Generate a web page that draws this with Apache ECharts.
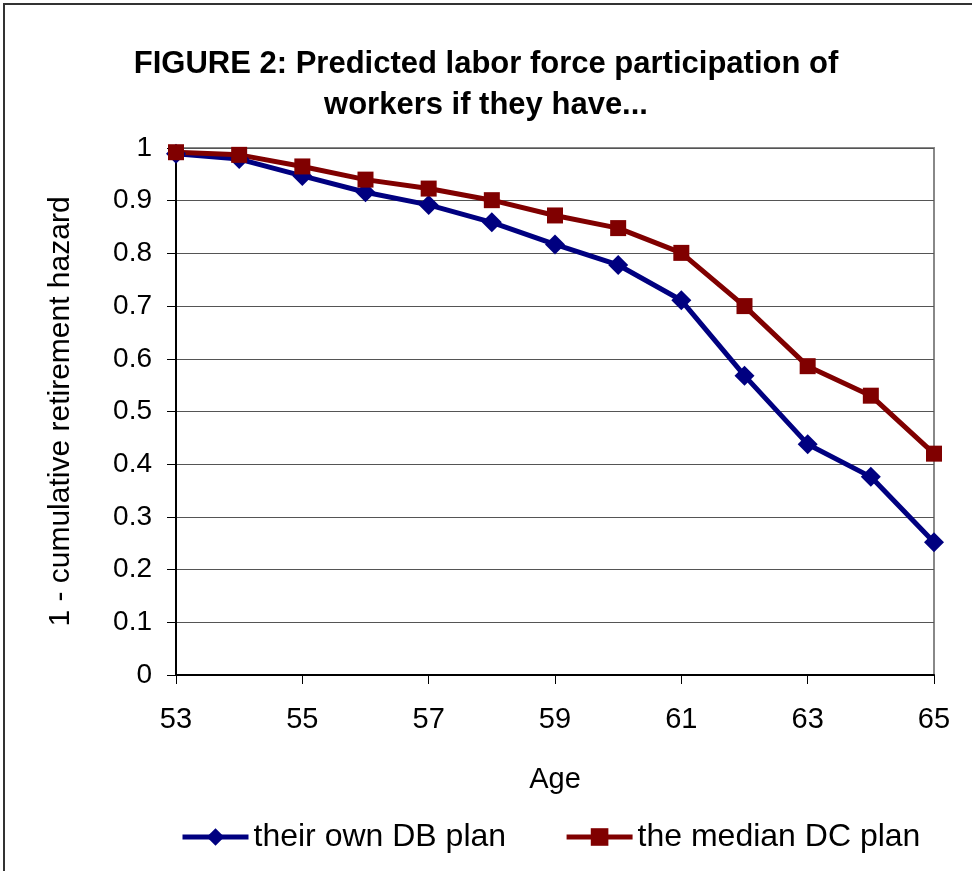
<!DOCTYPE html>
<html>
<head>
<meta charset="utf-8">
<script src="https://cdn.jsdelivr.net/npm/echarts@6/dist/echarts.min.js"></script>
<style>
  html, body { margin: 0; padding: 0; background: #fff; }
  #chart { width: 972px; height: 871px; }
</style>
</head>
<body>
<div id="chart"></div>
<script>
// age on the x axis
var ages = [53, 54, 55, 56, 57, 58, 59, 60, 61, 62, 63, 64, 65];
// their own DB plan
var dbPlan = [0.989, 0.979, 0.947, 0.916, 0.892, 0.859, 0.817, 0.778, 0.711, 0.568, 0.438, 0.376, 0.252];
// the median DC plan
var dcPlan = [0.992, 0.987, 0.965, 0.940, 0.923, 0.901, 0.872, 0.848, 0.801, 0.700, 0.586, 0.530, 0.420];

var font = "'Liberation Sans', Arial, sans-serif";

function pairs(ys) {
  return ages.map(function (a, i) { return [a, ys[i]]; });
}

var chart = echarts.init(document.getElementById("chart"));
chart.setOption({
  animation: false,
  backgroundColor: "#fff",
  graphic: [{
    type: "rect",
    shape: { x: 4, y: 4, width: 1100, height: 1100 },
    style: { fill: "none", stroke: "#333", lineWidth: 2 },
    silent: true
  }],
  title: {
    text: "FIGURE 2: Predicted labor force participation of\nworkers if they have...",
    left: "center",
    top: 39,
    textStyle: {
      fontFamily: font,
      fontSize: 31,
      fontWeight: "bold",
      color: "#000",
      lineHeight: 41
    }
  },
  legend: {
    left: 175,
    top: 816,
    itemWidth: 66,
    itemHeight: 22,
    itemGap: 58,
    lineStyle: { width: 5 },
    textStyle: { fontFamily: font, fontSize: 32, color: "#000" },
    data: ["their own DB plan", "the median DC plan"]
  },
  grid: {
    left: 176,
    right: 38,
    top: 148,
    bottom: 196,
    show: true,
    borderColor: "#888",
    borderWidth: 2
  },
  xAxis: {
    type: "value",
    min: 53,
    max: 65,
    interval: 2,
    name: "Age",
    nameLocation: "middle",
    nameGap: 90,
    nameTextStyle: { fontFamily: font, fontSize: 29, color: "#000" },
    axisLine: { lineStyle: { color: "#000", width: 2 } },
    axisTick: { show: true, length: 9, lineStyle: { color: "#000" } },
    axisLabel: { margin: 30, fontFamily: font, fontSize: 29, color: "#000" },
    splitLine: { show: false }
  },
  yAxis: {
    type: "value",
    min: 0,
    max: 1,
    interval: 0.1,
    name: "1 - cumulative retirement hazard",
    nameLocation: "middle",
    nameGap: 100,
    nameTextStyle: { fontFamily: font, fontSize: 30, color: "#000" },
    axisLine: { show: true, lineStyle: { color: "#000", width: 2 } },
    axisTick: { show: true, length: 9, lineStyle: { color: "#000" } },
    axisLabel: { margin: 24, fontFamily: font, fontSize: 28, color: "#000" },
    splitLine: { show: true, lineStyle: { color: "#555", width: 1 } }
  },
  series: [
    {
      name: "their own DB plan",
      type: "line",
      data: pairs(dbPlan),
      clip: false,
      symbol: "diamond",
      symbolSize: 20,
      itemStyle: { color: "#000080" },
      lineStyle: { color: "#000080", width: 5 }
    },
    {
      name: "the median DC plan",
      type: "line",
      data: pairs(dcPlan),
      clip: false,
      symbol: "rect",
      symbolSize: 16,
      itemStyle: { color: "#800000" },
      lineStyle: { color: "#800000", width: 5 }
    }
  ]
});
</script>
</body>
</html>
